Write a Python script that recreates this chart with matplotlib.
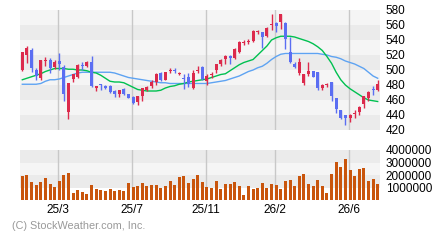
import matplotlib
matplotlib.use("Agg")
import matplotlib.pyplot as plt
import numpy as np

# weekly candles (78 weeks)
opens = [500, 519.6, 526.7, 500, 489.3, 512, 513.3, 504, 512, 504,
         444, 488, 490.7, 506.7, 505.3, 510.7, 476, 481.3, 478.7, 478.7,
         472, 468, 474.2, 468, 464, 457.3, 465.3, 473.3, 478.7, 484,
         496, 486.7, 498.7, 500, 494.7, 488.4, 490.7, 476, 498.7, 504,
         485.3, 493.3, 500, 508, 514.7, 518.7, 516, 524, 536, 537.3,
         538.7, 550.7, 550.7, 545.3, 560, 563, 564.4, 563, 523.6, 508,
         495.6, 483, 494.7, 498.7, 497, 475.6, 480, 484, 462.7, 446.7,
         440, 436, 441.3, 444, 454.7, 462.7, 474.7, 473.3]
highs = [524.4, 531.6, 529.3, 502.7, 513.3, 517.3, 516, 513.3, 522.7, 506.7,
         482.7, 494.7, 508, 510.7, 512, 518.7, 478.7, 481.3, 480, 480,
         473.3, 473.3, 476, 468, 465.3, 465.3, 476, 478.7, 486.7, 496,
         497.3, 497.3, 502.7, 502.7, 497.3, 494.7, 496, 500, 505.3, 505.3,
         494.7, 497.3, 508, 514.7, 520, 520, 529.3, 538.7, 540, 541.3,
         553.3, 553.3, 550.7, 557.3, 574.7, 564, 574.7, 564, 543.6, 511,
         515.6, 494.7, 511, 498.7, 497, 481.3, 482.7, 484, 462.7, 446.7,
         440, 441.3, 446.7, 452, 465.3, 472, 478.7, 486.7]
lows = [498.5, 509.3, 497.3, 487, 487, 505, 496, 501.3, 500, 458,
        435, 484, 489.3, 500, 504, 477.3, 472, 473.3, 474.7, 469.3,
        464, 464.4, 466.2, 462.7, 454.7, 453.3, 458.7, 471.6, 476, 480,
        485.3, 486.7, 496, 496, 493.3, 474.7, 477.3, 474.7, 496, 486.7,
        480, 489.3, 496, 505.3, 508, 508, 514.7, 522.7, 533.3, 534.7,
        537.3, 548, 529.3, 544, 553.3, 550.7, 554.7, 527.6, 508.9, 502.2,
        493.3, 480, 492, 490.2, 473, 473.3, 477.3, 458.7, 442.7, 434.7,
        426.7, 430.7, 436, 440, 449.3, 458.7, 466.7, 472]
closes = [524.4, 529.3, 502.7, 492, 513.3, 513.3, 502.7, 510.7, 508, 468,
          482.7, 494.7, 506.7, 505.3, 510.7, 478.7, 478.7, 480, 476, 470.7,
          468, 473.3, 468, 462.7, 456, 465.3, 476, 477.3, 484, 494.7,
          486.7, 497.3, 500, 498.7, 496, 488, 481.3, 496, 500, 488,
          492, 494.7, 508, 513.3, 518.7, 516, 528, 537.3, 537.3, 538.7,
          552, 552, 544, 556, 561.3, 558, 574.7, 541, 511.1, 503.6,
          511.1, 494.7, 498.7, 491.1, 475.6, 480, 481.3, 465.3, 448, 436,
          436, 440, 442, 450.7, 465.3, 470.7, 473.3, 481.3]
ma_short = [487, 489, 491, 493, 495, 498, 500, 502, 502, 502,
            501, 501, 500, 500, 499, 497, 496, 493, 489, 485,
            484, 484, 483, 480, 477, 474, 473, 472, 472, 472,
            473, 476, 478, 479, 481, 482, 484, 485, 486, 487,
            488, 490, 492, 494, 495, 499, 503, 507, 510, 512,
            514, 520, 526, 532, 540, 543, 545, 545, 545, 544,
            542, 540, 538, 535, 531, 526, 518, 509, 497, 487,
            480, 475, 471, 467, 463, 460, 459, 458]
ma_long = [481, 481, 481, 481, 482, 485, 487, 487, 488, 490,
           492, 494, 496, 497, 497, 497, 497, 497, 497, 497,
           496, 494, 492, 490, 489, 488, 487, 486, 485, 484,
           483, 483, 482, 482, 482, 482, 482, 482, 482, 482,
           482, 483, 484, 485, 486, 488, 490, 492, 495, 498,
           500, 503, 505, 509, 514, 518, 521, 522, 522, 522,
           522, 522, 522, 522, 522, 521, 520, 518, 517, 515,
           512, 510, 508, 505, 502, 497, 492, 489]
volume = [1950000, 2030000, 1440000, 1230000, 1440000, 1760000, 1310000, 1070000, 1550000, 2030000,
          2190000, 590000, 800000, 670000, 510000, 1230000, 880000, 800000, 750000, 910000,
          750000, 830000, 750000, 1390000, 1070000, 1150000, 1390000, 1150000, 1230000, 1230000,
          990000, 1150000, 1550000, 1230000, 1870000, 1950000, 1390000, 1680000, 2030000, 1470000,
          1070000, 990000, 1550000, 880000, 1280000, 1280000, 1440000, 1120000, 400000, 1120000,
          880000, 960000, 1360000, 960000, 1280000, 1200000, 880000, 1520000, 1600000, 1120000,
          1920000, 2080000, 1280000, 1120000, 1600000, 1120000, 560000, 2080000, 3040000, 2640000,
          3280000, 2400000, 1920000, 2480000, 2560000, 1520000, 1680000, 1280000]
month_pos = [8, 24, 40, 55, 71]
month_labels = ["25/3", "25/7", "25/11", "26/2", "26/6"]
price_ticks = [420, 440, 460, 480, 500, 520, 540, 560, 580]
vol_ticks = [1000000, 2000000, 3000000, 4000000]

plt.rcParams['font.family'] = ['Liberation Sans', 'DejaVu Sans']
up_col = "#dc2a4c"
dn_col = "#5b6ef2"
fig = plt.figure(figsize=(4.4, 2.4), dpi=100)
fig.patch.set_facecolor("white")
ax = fig.add_axes([20/440, 1-130/240, 360/440, 120/240])
axv = fig.add_axes([20/440, 1-200/240, 360/440, 50/240])

x = np.arange(len(closes))
o = np.array(opens); c = np.array(closes)
cols = [up_col if cc >= oo else dn_col for oo, cc in zip(o, c)]

for k in range(8):
    ax.axhspan(420+20*k, 440+20*k, color="#ebebeb" if k % 2 == 0 else "#f5f5f5", lw=0, zorder=0)
band_cols = ["white", "#ebebeb", "#f5f5f5", "#ebebeb"]
for k in range(4):
    axv.axhspan(k*1000000, (k+1)*1000000, color=band_cols[k], lw=0, zorder=0)

for a in (ax, axv):
    for p in month_pos:
        a.axvline(p - 0.2, color="#c8c8c8", lw=1, zorder=1)

ax.plot(x, ma_long, color="#5ea3f2", lw=1, zorder=2)
ax.plot(x, ma_short, color="#00c050", lw=1, zorder=2)
ax.vlines(x, lows, highs, colors=cols, lw=1, zorder=3)
body = np.maximum(np.abs(c - o), 0.9)
ax.bar(x, body, bottom=np.minimum(o, c), width=0.65, color=cols, lw=0, zorder=4)

axv.bar(x, volume, width=0.65, color="#c9550c", lw=0, zorder=3)

ax.set_xlim(-0.5, len(x)-0.5)
axv.set_xlim(-0.5, len(x)-0.5)
ax.set_ylim(420, 580)
axv.set_ylim(0, 4000000)

ax.yaxis.tick_right()
ax.set_yticks(price_ticks)
ax.set_yticklabels([str(t) for t in price_ticks], fontsize=8.5)
ax.set_xticks([])
axv.yaxis.tick_right()
axv.set_yticks(vol_ticks)
axv.set_yticklabels([str(t) for t in vol_ticks], fontsize=8.5)
axv.set_xticks([p - 0.2 for p in month_pos])
axv.set_xticklabels(month_labels, fontsize=8.5)
for a in (ax, axv):
    a.tick_params(length=0, pad=4)
    for s in a.spines.values():
        s.set_visible(False)
axv.tick_params(axis="x", pad=3)

fig.text(12/440, 1-226/240, "(C) StockWeather.com, Inc.", fontsize=7.8, color="#999999", va="center")
fig.savefig("out.png", dpi=100)
